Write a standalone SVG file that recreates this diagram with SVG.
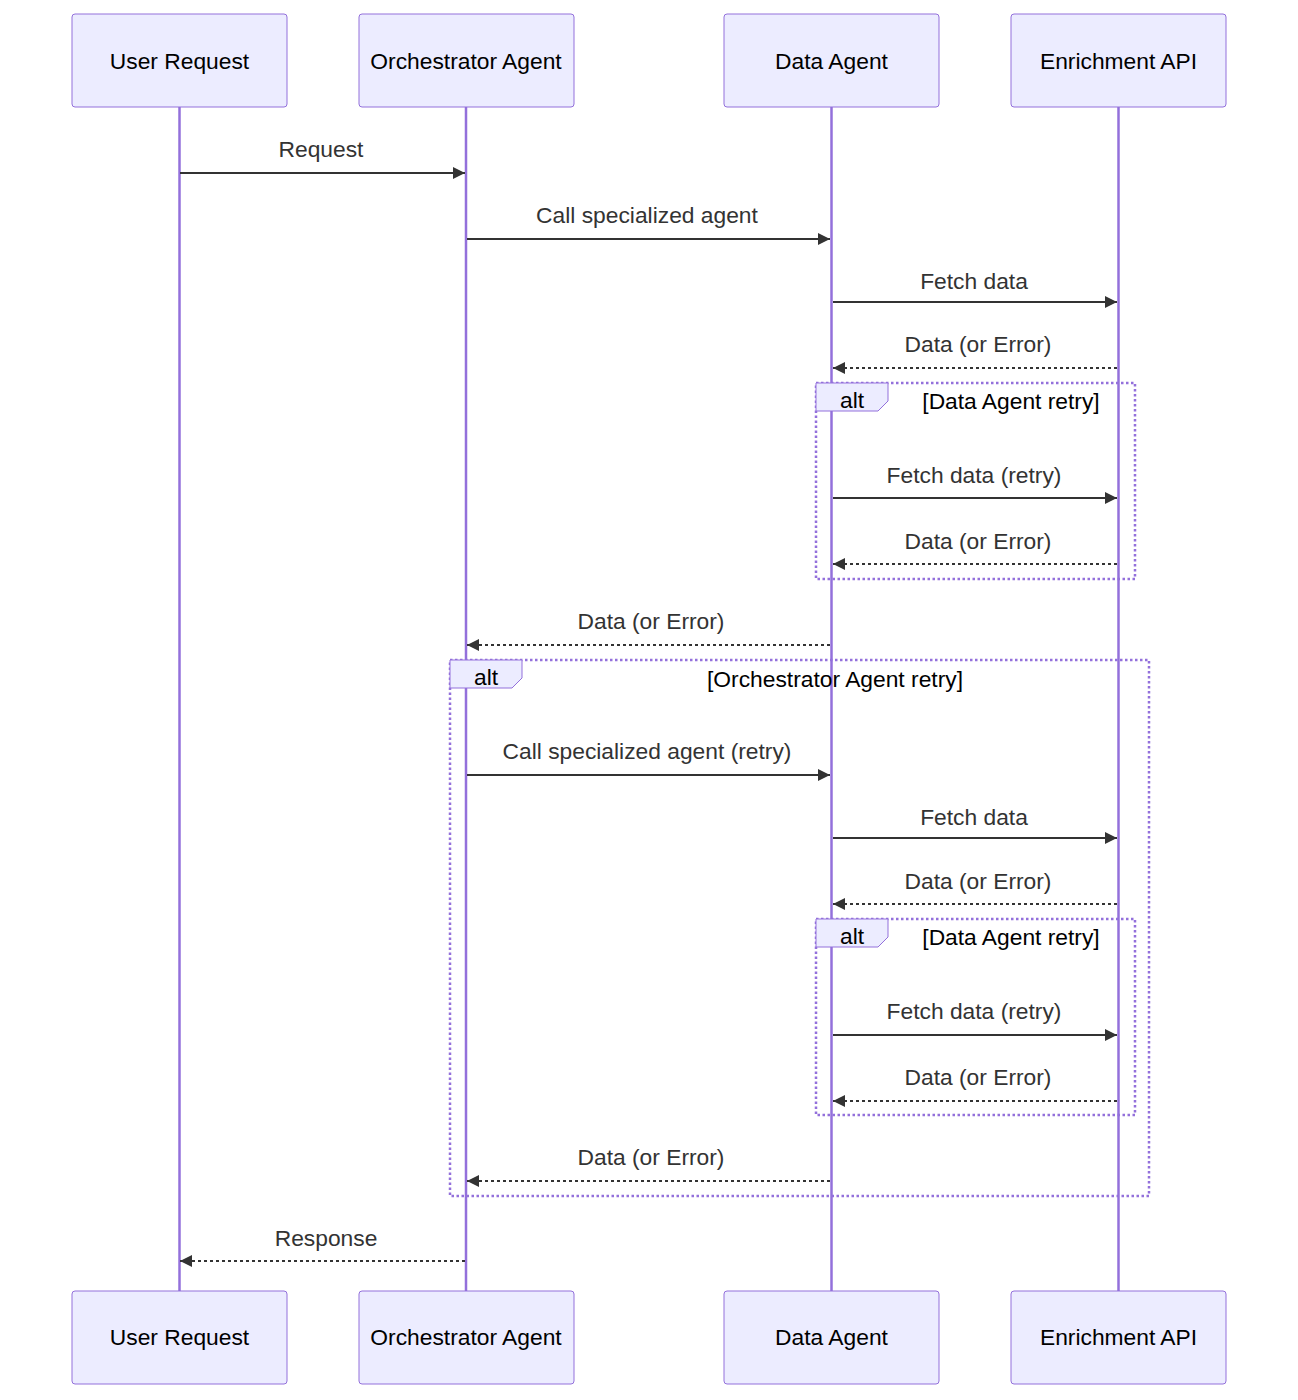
<svg xmlns="http://www.w3.org/2000/svg" width="1298" height="1400" viewBox="0 0 1298 1400">
<defs>
<style>
.actor{fill:#ECECFF;stroke:#9370DB;stroke-width:1}
.at{font-family:"Liberation Sans",Arial,sans-serif;font-size:22.8px;fill:#000;text-anchor:middle;dominant-baseline:central}
.life{stroke:#9370DB;stroke-width:2.5}
.msg{stroke:#333;stroke-width:2;fill:none}
.dash{stroke-dasharray:3,3}
.ml{font-family:"Liberation Sans",Arial,sans-serif;font-size:22.8px;fill:#333;text-anchor:middle}
.loop{fill:none;stroke:#9370DB;stroke-width:2.5;stroke-dasharray:2.5,2.5}
.lb{fill:#ECECFF;stroke:#9370DB;stroke-width:1}
.lt{font-family:"Liberation Sans",Arial,sans-serif;font-size:22.8px;fill:#000;text-anchor:middle;dominant-baseline:central}
</style>
<marker id="ah" viewBox="0 0 12 12" refX="12" refY="6" markerWidth="12" markerHeight="12" markerUnits="userSpaceOnUse" orient="auto"><path d="M0,0 L12,6 L0,12 z" fill="#333"/></marker>
</defs>
<g id="lifelines">
<line class="life" x1="179.5" y1="107" x2="179.5" y2="1291"/>
<line class="life" x1="466" y1="107" x2="466" y2="1291"/>
<line class="life" x1="831.5" y1="107" x2="831.5" y2="1291"/>
<line class="life" x1="1118.5" y1="107" x2="1118.5" y2="1291"/>
</g>
<g id="actor-user-top"><rect class="actor" x="72" y="14" width="215" height="93" rx="3"/><text class="at" x="179.5" y="61">User Request</text></g>
<g id="actor-orch-top"><rect class="actor" x="359" y="14" width="215" height="93" rx="3"/><text class="at" x="466" y="61">Orchestrator Agent</text></g>
<g id="actor-data-top"><rect class="actor" x="724" y="14" width="215" height="93" rx="3"/><text class="at" x="831.5" y="61">Data Agent</text></g>
<g id="actor-enr-top"><rect class="actor" x="1011" y="14" width="215" height="93" rx="3"/><text class="at" x="1118.5" y="61">Enrichment API</text></g>
<g id="actor-user-bot"><rect class="actor" x="72" y="1291" width="215" height="93" rx="3"/><text class="at" x="179.5" y="1337">User Request</text></g>
<g id="actor-orch-bot"><rect class="actor" x="359" y="1291" width="215" height="93" rx="3"/><text class="at" x="466" y="1337">Orchestrator Agent</text></g>
<g id="actor-data-bot"><rect class="actor" x="724" y="1291" width="215" height="93" rx="3"/><text class="at" x="831.5" y="1337">Data Agent</text></g>
<g id="actor-enr-bot"><rect class="actor" x="1011" y="1291" width="215" height="93" rx="3"/><text class="at" x="1118.5" y="1337">Enrichment API</text></g>
<g id="frames">
<rect class="loop" x="816" y="383" width="319" height="196"/>
<path class="lb" d="M816,383 H888 V401 L878,411 H816 Z"/><text class="lt" x="852" y="400">alt</text>
<text class="lt" x="1011" y="401">[Data Agent retry]</text>
<rect class="loop" x="450" y="660" width="699" height="536"/>
<path class="lb" d="M450,660 H522 V678 L512,688 H450 Z"/><text class="lt" x="486" y="677">alt</text>
<text class="lt" x="835" y="679">[Orchestrator Agent retry]</text>
<rect class="loop" x="816" y="919" width="319" height="196"/>
<path class="lb" d="M816,919 H888 V937 L878,947 H816 Z"/><text class="lt" x="852" y="936">alt</text>
<text class="lt" x="1011" y="937">[Data Agent retry]</text>
</g>
<g id="connectors">
<line class="msg" x1="180" y1="173" x2="465" y2="173" marker-end="url(#ah)"/><text class="ml" x="321" y="157">Request</text>
<line class="msg" x1="467" y1="239" x2="830" y2="239" marker-end="url(#ah)"/><text class="ml" x="647" y="223">Call specialized agent</text>
<line class="msg" x1="833" y1="302" x2="1117" y2="302" marker-end="url(#ah)"/><text class="ml" x="974" y="289">Fetch data</text>
<line class="msg dash" x1="1117" y1="368" x2="833" y2="368" marker-end="url(#ah)"/><text class="ml" x="978" y="352">Data (or Error)</text>
<line class="msg" x1="833" y1="498" x2="1117" y2="498" marker-end="url(#ah)"/><text class="ml" x="974" y="483">Fetch data (retry)</text>
<line class="msg dash" x1="1117" y1="564" x2="833" y2="564" marker-end="url(#ah)"/><text class="ml" x="978" y="549">Data (or Error)</text>
<line class="msg dash" x1="830" y1="645" x2="467" y2="645" marker-end="url(#ah)"/><text class="ml" x="651" y="629">Data (or Error)</text>
<line class="msg" x1="467" y1="775" x2="830" y2="775" marker-end="url(#ah)"/><text class="ml" x="647" y="759">Call specialized agent (retry)</text>
<line class="msg" x1="833" y1="838" x2="1117" y2="838" marker-end="url(#ah)"/><text class="ml" x="974" y="825">Fetch data</text>
<line class="msg dash" x1="1117" y1="904" x2="833" y2="904" marker-end="url(#ah)"/><text class="ml" x="978" y="889">Data (or Error)</text>
<line class="msg" x1="833" y1="1035" x2="1117" y2="1035" marker-end="url(#ah)"/><text class="ml" x="974" y="1019">Fetch data (retry)</text>
<line class="msg dash" x1="1117" y1="1101" x2="833" y2="1101" marker-end="url(#ah)"/><text class="ml" x="978" y="1085">Data (or Error)</text>
<line class="msg dash" x1="830" y1="1181" x2="467" y2="1181" marker-end="url(#ah)"/><text class="ml" x="651" y="1165">Data (or Error)</text>
<line class="msg dash" x1="465" y1="1261" x2="180" y2="1261" marker-end="url(#ah)"/><text class="ml" x="326" y="1246">Response</text>
</g>
</svg>
